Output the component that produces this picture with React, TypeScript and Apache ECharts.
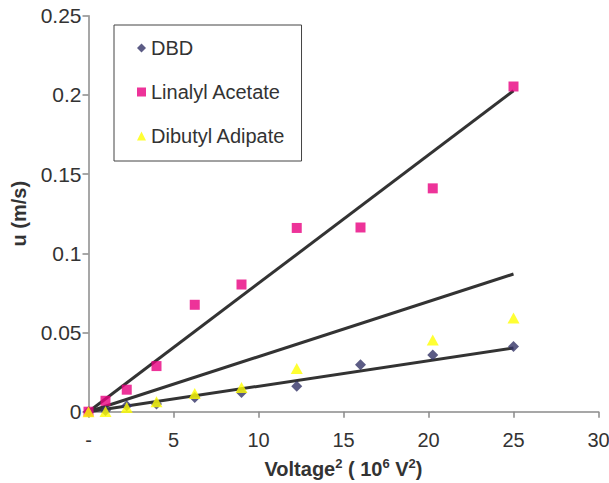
import React, { useEffect, useRef } from "react";
import * as echarts from "echarts";

const xValues = [0, 1, 2.25, 4, 6.25, 9, 12.25, 16, 20.25, 25];
const dbdValues = [0, 0.0008, 0.0038, 0.0049, 0.009, 0.0122, 0.016, 0.0297, 0.0358, 0.0412];
const linalylValues = [0, 0.0069, 0.0139, 0.0288, 0.0675, 0.0803, 0.116, 0.1163, 0.141, 0.2053];
const dibutylValues: (number | null)[] = [0, 0.0002, 0.0027, 0.0063, 0.0115, 0.0153, 0.0273, null, 0.0452, 0.0591];
const seriesNames = ["DBD", "Linalyl Acetate", "Dibutyl Adipate"];
const trendX = [0, 25];
const trendStart = [0, 0, 0];
const trendEnd = [0.0402, 0.0869, 0.2026];
const xTicks = [0, 5, 10, 15, 20, 25, 30];
const yTicks = [0, 0.05, 0.1, 0.15, 0.2, 0.25];

const FONT = "'Liberation Sans', Arial, sans-serif";

function pairs(vals: (number | null)[]) {
  const out: number[][] = [];
  vals.forEach((v, i) => {
    if (v !== null) out.push([xValues[i], v]);
  });
  return out;
}

export default function App() {
  const ref = useRef<HTMLDivElement>(null);
  useEffect(() => {
    if (!ref.current) return;
    const chart = echarts.init(ref.current, undefined, { renderer: "svg" });
    const trendSeries = trendEnd.map((end, i) => ({
      name: "trend" + i,
      type: "line",
      data: [
        [trendX[0], trendStart[i]],
        [trendX[1], end],
      ],
      symbol: "none",
      lineStyle: { color: "#333333", width: 3 },
      z: 1,
      silent: true,
    }));
    chart.setOption({
      animation: false,
      textStyle: { fontFamily: FONT },
      grid: {
        left: 88.5,
        right: 10.5,
        top: 15.7,
        bottom: 71.3,
        outerBoundsMode: "none",
        containLabel: false,
      },
      legend: {
        data: seriesNames,
        orient: "vertical",
        left: 114,
        top: 25,
        padding: [13, 16, 15, 23],
        itemGap: 24,
        itemWidth: 9,
        itemHeight: 9,
        borderColor: "#444444",
        borderWidth: 1,
        textStyle: { fontSize: 20, color: "#333333", fontFamily: FONT },
      },
      xAxis: {
        type: "value",
        min: xTicks[0],
        max: xTicks[xTicks.length - 1],
        interval: 5,
        splitLine: { show: false },
        axisLine: { onZero: false, lineStyle: { color: "#8a8a8a", width: 1.5 } },
        axisTick: { show: true, length: 6, lineStyle: { color: "#8a8a8a", width: 1.5 } },
        axisLabel: {
          fontSize: 20,
          color: "#333333",
          margin: 18,
          fontFamily: FONT,
          formatter: (v: number) => (v === 0 ? "-" : String(v)),
        },
        name: "Voltage{sup|2} ( 10{sup|6} V{sup|2})",
        nameLocation: "middle",
        nameGap: 45,
        nameTextStyle: {
          fontSize: 20,
          fontWeight: "bold",
          color: "#333333",
          fontFamily: FONT,
          lineHeight: 24,
          rich: {
            sup: {
              fontSize: 13,
              fontWeight: "bold",
              color: "#333333",
              fontFamily: FONT,
              verticalAlign: "top",
              lineHeight: 24,
              padding: [0, 0, 8, 0],
            },
          },
        },
      },
      yAxis: {
        type: "value",
        min: yTicks[0],
        max: yTicks[yTicks.length - 1],
        interval: 0.05,
        splitLine: { show: false },
        axisLine: { show: true, lineStyle: { color: "#8a8a8a", width: 1.5 } },
        axisTick: { show: true, length: 6, lineStyle: { color: "#8a8a8a", width: 1.5 } },
        axisLabel: {
          fontSize: 21,
          color: "#333333",
          margin: 7,
          fontFamily: FONT,
          formatter: (v: number) => String(Math.round(v * 100) / 100),
        },
        name: "u (m/s)",
        nameLocation: "middle",
        nameRotate: 90,
        nameGap: 60,
        nameTextStyle: { fontSize: 20, fontWeight: "bold", color: "#333333", fontFamily: FONT },
      },
      series: [
        ...trendSeries,
        {
          name: seriesNames[0],
          type: "scatter",
          data: pairs(dbdValues),
          symbol: "diamond",
          symbolSize: 11,
          itemStyle: { color: "#333366" },
          z: 3,
        },
        {
          name: seriesNames[1],
          type: "scatter",
          data: pairs(linalylValues),
          symbol: "rect",
          symbolSize: 10,
          itemStyle: { color: "#e8007f" },
          z: 4,
        },
        {
          name: seriesNames[2],
          type: "scatter",
          data: pairs(dibutylValues),
          symbol: "triangle",
          symbolSize: [12, 11],
          itemStyle: { color: "#ffff00" },
          z: 5,
        },
      ],
    });
    return () => chart.dispose();
  }, []);
  return (
    <div
      ref={ref}
      style={{ position: "fixed", left: 0, top: 0, width: 609, height: 483, background: "#ffffff" }}
    />
  );
}
